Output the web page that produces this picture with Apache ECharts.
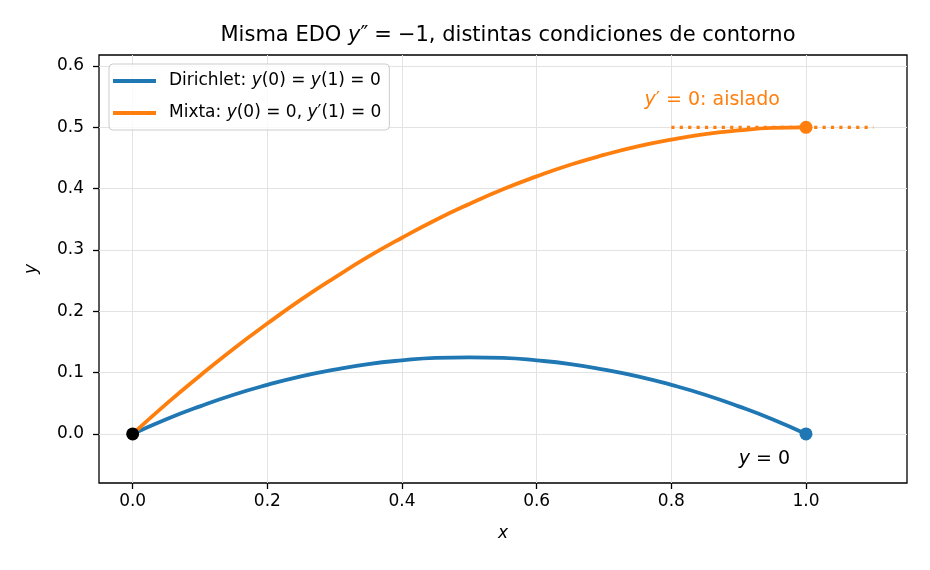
<!DOCTYPE html>
<html>
<head>
<meta charset="utf-8">
<script src="https://cdn.jsdelivr.net/npm/echarts@6/dist/echarts.min.js"></script>
<style>
  html, body { margin: 0; padding: 0; background: #fff; }
  #main { width: 930px; height: 570px; }
</style>
</head>
<body>
<div id="main"></div>
<script>
// valores
var xs = [0, 0.05, 0.1, 0.15, 0.2, 0.25, 0.3, 0.35, 0.4, 0.45, 0.5,
          0.55, 0.6, 0.65, 0.7, 0.75, 0.8, 0.85, 0.9, 0.95, 1.0];
var dirichlet = [0, 0.024, 0.045, 0.064, 0.08, 0.094, 0.105, 0.114, 0.12, 0.124, 0.125,
                 0.124, 0.12, 0.114, 0.105, 0.094, 0.08, 0.064, 0.045, 0.024, 0];
var mixta = [0, 0.049, 0.095, 0.139, 0.18, 0.219, 0.255, 0.289, 0.32, 0.349, 0.375,
             0.399, 0.42, 0.439, 0.455, 0.469, 0.48, 0.489, 0.495, 0.499, 0.5];
var slopeX = [0.8, 1.1];
var slopeY = [0.5, 0.5];
var xTicks = [0, 0.2, 0.4, 0.6, 0.8, 1.0];
var yTicks = [0, 0.1, 0.2, 0.3, 0.4, 0.5, 0.6];

var blue = '#1f77b4', orange = '#ff7f0e';
var font = 'DejaVu Sans';

function pairs(a, b) {
    return a.map(function (v, i) { return [v, b[i]]; });
}

var chart = echarts.init(document.getElementById('main'));

var option = {
    animation: false,
    textStyle: { fontFamily: font },
    title: {
        text: 'Misma EDO {i|y}{n|″}{e|=}{n|−1, distintas condiciones de contorno}',
        left: 503, top: 20, textAlign: 'center',
        textStyle: {
            fontWeight: 'normal', color: '#000', fontSize: 21,
            rich: {
                i: { fontFamily: font, fontSize: 21, fontStyle: 'italic', fontWeight: 'normal', color: '#000' },
                n: { fontFamily: font, fontSize: 21, fontWeight: 'normal', color: '#000' },
                e: { fontFamily: font, fontSize: 21, fontWeight: 'normal', color: '#000', padding: [0, 6, 0, 6] }
            }
        }
    },
    legend: {
        left: 109, top: 64,
        orient: 'vertical',
        data: ['Dirichlet', 'Mixta'],
        icon: 'rect', itemWidth: 43, itemHeight: 4, itemGap: 12,
        borderColor: '#cccccc', borderWidth: 1, borderRadius: 4,
        padding: [7, 8, 7, 4],
        backgroundColor: 'rgba(255,255,255,0.8)',
        formatter: function (name) {
            if (name === 'Dirichlet') return 'Dirichlet: {i|y}(0) = {i|y}(1) = 0';
            return 'Mixta: {i|y}(0) = 0, {i|y}′(1) = 0';
        },
        textStyle: {
            fontSize: 17, color: '#000', padding: [0, 0, 0, 8], lineHeight: 20,
            rich: { i: { fontSize: 17, fontStyle: 'italic', color: '#000', lineHeight: 20 } }
        }
    },
    grid: {
        left: 99, right: 23, top: 55, bottom: 87,
        show: true, borderColor: '#000', borderWidth: 1.3
    },
    xAxis: {
        type: 'value', min: -0.05, max: 1.15,
        name: 'x', nameLocation: 'middle', nameGap: 42,
        nameTextStyle: { fontSize: 17, fontStyle: 'italic', color: '#000' },
        axisLine: { show: false, onZero: false },
        axisTick: { show: true, length: 6, customValues: xTicks, lineStyle: { color: '#000', width: 1.3 } },
        axisLabel: { customValues: xTicks, fontSize: 17, color: '#000', margin: 10,
            formatter: function (v) { return v.toFixed(1); } },
        splitLine: { show: true, lineStyle: { color: '#e3e3e3', width: 1 } }
    },
    yAxis: {
        type: 'value', min: -0.08, max: 0.618,
        name: 'y', nameLocation: 'middle', nameGap: 59,
        nameTextStyle: { fontSize: 17, fontStyle: 'italic', color: '#000' },
        axisLine: { show: false, onZero: false },
        axisTick: { show: true, length: 6, customValues: yTicks, lineStyle: { color: '#000', width: 1.3 } },
        axisLabel: { customValues: yTicks, fontSize: 17, color: '#000', margin: 15,
            formatter: function (v) { return v.toFixed(1); } },
        splitLine: { show: true, lineStyle: { color: '#e3e3e3', width: 1 } }
    },
    series: [
        {
            name: 'Dirichlet', type: 'line', data: pairs(xs, dirichlet),
            smooth: true, showSymbol: false, z: 3,
            lineStyle: { color: blue, width: 3.8 }, itemStyle: { color: blue }
        },
        {
            name: 'Mixta', type: 'line', data: pairs(xs, mixta),
            smooth: true, showSymbol: false, z: 3,
            lineStyle: { color: orange, width: 3.8 }, itemStyle: { color: orange }
        },
        {
            name: 'pendiente', type: 'line', data: pairs(slopeX, slopeY),
            showSymbol: false, z: 2,
            lineStyle: { color: orange, width: 3.2, type: [3.2, 5.2] }
        },
        {
            name: 'fin Dirichlet', type: 'scatter', data: [[xs[20], dirichlet[20]]],
            symbolSize: 13, itemStyle: { color: blue, opacity: 1 }, z: 5
        },
        {
            name: 'fin Mixta', type: 'scatter', data: [[xs[20], mixta[20]]],
            symbolSize: 13, itemStyle: { color: orange, opacity: 1 }, z: 5
        },
        {
            name: 'origen', type: 'scatter', data: [[xs[0], mixta[0]]],
            symbolSize: 13, itemStyle: { color: '#000', opacity: 1 }, z: 6
        }
    ]
};

chart.setOption(option);

// anotaciones de texto
var p1 = chart.convertToPixel({ gridIndex: 0 }, [0.76, 0.54]);
var p2 = chart.convertToPixel({ gridIndex: 0 }, [0.9, -0.045]);
chart.setOption({
    graphic: [
        {
            type: 'text', left: p1[0], top: p1[1] - 12,
            style: {
                text: '{i|y}′ = 0: aislado',
                fontFamily: font, fontSize: 19, fill: orange,
                rich: { i: { fontFamily: font, fontSize: 19, fontStyle: 'italic', color: orange } }
            }
        },
        {
            type: 'text', left: p2[0], top: p2[1] - 12,
            style: {
                text: '{i|y} = 0',
                fontFamily: font, fontSize: 19, fill: '#000',
                rich: { i: { fontFamily: font, fontSize: 19, fontStyle: 'italic', color: '#000' } }
            }
        }
    ]
});
</script>
</body>
</html>
